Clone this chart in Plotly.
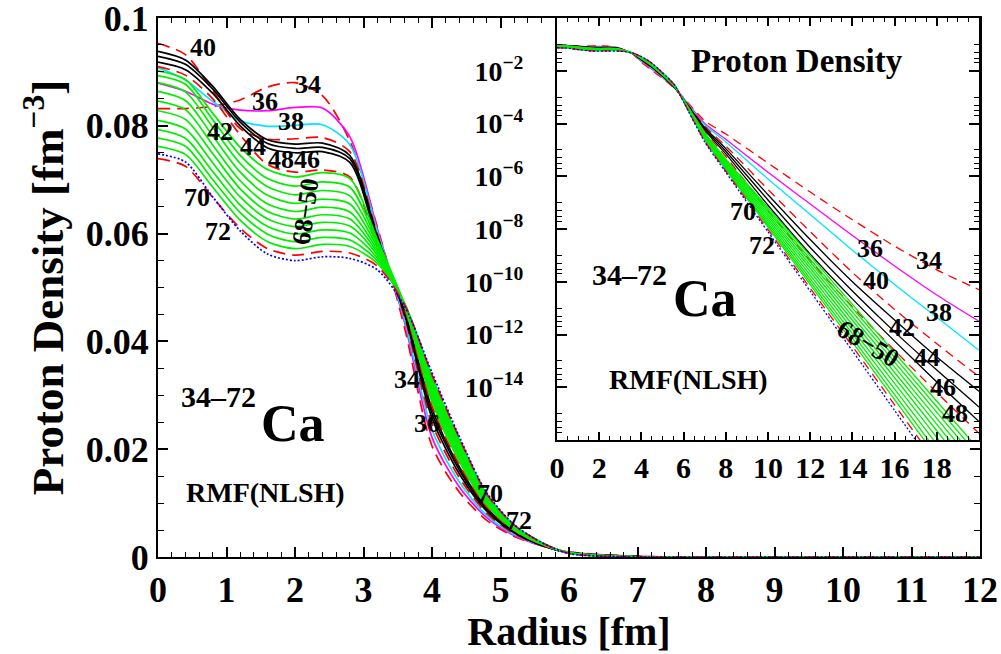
import plotly.graph_objects as go

# ---------------- data ----------------
radius = [0, 0.4, 0.8, 1.2, 1.6, 2.0, 2.4, 2.8, 3.2, 3.6, 4.0, 4.4, 4.8, 5.2, 5.6, 6.0,
          7, 8, 10, 12, 14, 16, 18, 20]

isotopes = [34, 36, 38, 40, 42, 44, 46, 48, 50, 52, 54, 56, 58, 60, 62, 64, 66, 68, 70, 72]

ca34 = [0.0832, 0.0832, 0.0836, 0.0848, 0.0872, 0.0880, 0.0856, 0.0772, 0.0613, 0.0425, 0.0206, 0.0120, 0.0068, 0.0038, 0.0021, 9.5e-4, 1.26e-4, 3.98e-5, 3.16e-6, 2.51e-7, 2.24e-8, 2.24e-9, 2.82e-10, 5.01e-11]
ca36 = [0.0879, 0.0864, 0.0840, 0.0829, 0.0828, 0.0834, 0.0833, 0.0780, 0.0610, 0.0435, 0.0222, 0.0130, 0.0073, 0.0040, 0.0021, 9.0e-4, 1.0e-4, 2.51e-5, 1.41e-6, 8.91e-8, 5.62e-9, 3.98e-10, 3.16e-11, 3.16e-12]
ca38 = [0.0908, 0.0885, 0.0845, 0.0810, 0.0799, 0.0801, 0.0802, 0.0765, 0.0605, 0.0440, 0.0236, 0.0139, 0.0077, 0.0042, 0.0021, 8.7e-4, 8.91e-5, 2.0e-5, 7.94e-7, 3.55e-8, 1.58e-9, 7.94e-11, 4.47e-12, 2.51e-13]
ca40 = [0.0953, 0.0932, 0.0865, 0.0795, 0.0775, 0.0776, 0.0778, 0.0752, 0.0600, 0.0445, 0.0248, 0.0147, 0.0081, 0.0043, 0.0021, 8.4e-4, 7.94e-5, 1.41e-5, 3.16e-7, 7.94e-9, 2.24e-10, 8.91e-12, 4.47e-13, 2.51e-14]
ca42 = [0.0938, 0.0922, 0.0873, 0.0812, 0.0774, 0.0766, 0.0768, 0.0745, 0.0596, 0.0450, 0.0258, 0.0154, 0.0085, 0.0045, 0.0022, 8.2e-4, 7.08e-5, 1.12e-5, 2.0e-7, 3.98e-9, 1.0e-10, 3.55e-12, 1.41e-13, 7.08e-15]
ca44 = [0.0929, 0.0914, 0.0868, 0.0807, 0.0767, 0.0758, 0.0760, 0.0739, 0.0592, 0.0453, 0.0267, 0.0161, 0.0088, 0.0046, 0.0022, 8.0e-4, 6.31e-5, 8.91e-6, 1.26e-7, 2.0e-9, 4.47e-11, 1.26e-12, 4.47e-14, 1.78e-15]
ca46 = [0.0918, 0.0904, 0.0860, 0.0800, 0.0759, 0.0750, 0.0752, 0.0732, 0.0588, 0.0456, 0.0275, 0.0167, 0.0091, 0.0048, 0.0023, 7.9e-4, 5.62e-5, 7.08e-6, 7.94e-8, 1.12e-9, 2.24e-11, 5.62e-13, 1.58e-14, 5.01e-16]
ca48 = [0.0910, 0.0894, 0.0850, 0.0783, 0.0728, 0.0714, 0.0718, 0.0705, 0.0580, 0.0460, 0.0280, 0.0171, 0.0093, 0.0049, 0.0023, 7.8e-4, 5.01e-5, 5.62e-6, 5.01e-8, 6.31e-10, 1.12e-11, 2.51e-13, 6.31e-15, 1.78e-16]
ca50 = [0.0902, 0.0886, 0.0823, 0.0760, 0.0719, 0.0705, 0.0713, 0.0702, 0.0590, 0.0466, 0.0288, 0.0177, 0.0096, 0.0050, 0.0024, 7.8e-4, 4.47e-5, 4.47e-6, 6.46e-8, 9.55e-10, 1.38e-11, 2.04e-13, 2.95e-15, 4.27e-17]
ca52 = [0.0893, 0.0877, 0.0811, 0.0745, 0.0702, 0.0688, 0.0696, 0.0686, 0.0585, 0.0467, 0.0294, 0.0182, 0.0099, 0.0051, 0.0024, 7.7e-4, 4.17e-5, 3.98e-6, 5.37e-8, 7.24e-10, 1.0e-11, 1.35e-13, 1.82e-15, 2.45e-17]
ca54 = [0.0880, 0.0863, 0.0797, 0.0730, 0.0687, 0.0672, 0.0680, 0.0670, 0.0580, 0.0467, 0.0300, 0.0187, 0.0102, 0.0052, 0.0025, 7.6e-4, 3.89e-5, 3.55e-6, 4.47e-8, 5.62e-10, 7.08e-12, 8.91e-14, 1.12e-15, 1.41e-17]
ca56 = [0.0864, 0.0847, 0.0781, 0.0714, 0.0671, 0.0656, 0.0664, 0.0655, 0.0575, 0.0468, 0.0305, 0.0192, 0.0104, 0.0053, 0.0025, 7.5e-4, 3.63e-5, 3.16e-6, 3.63e-8, 4.27e-10, 4.90e-12, 5.75e-14, 6.61e-16, 7.76e-18]
ca58 = [0.0846, 0.0830, 0.0764, 0.0698, 0.0655, 0.0641, 0.0649, 0.0640, 0.0570, 0.0468, 0.0310, 0.0197, 0.0106, 0.0054, 0.0025, 7.4e-4, 3.39e-5, 2.82e-6, 3.02e-8, 3.24e-10, 3.47e-12, 3.63e-14, 3.89e-16, 4.17e-18]
ca60 = [0.0828, 0.0812, 0.0748, 0.0683, 0.0641, 0.0627, 0.0635, 0.0627, 0.0565, 0.0469, 0.0315, 0.0201, 0.0108, 0.0055, 0.0026, 7.3e-4, 3.16e-5, 2.51e-6, 2.45e-8, 2.40e-10, 2.34e-12, 2.29e-14, 2.24e-16, 2.19e-18]
ca62 = [0.0810, 0.0794, 0.0731, 0.0668, 0.0627, 0.0613, 0.0621, 0.0614, 0.0560, 0.0469, 0.0320, 0.0205, 0.0110, 0.0056, 0.0026, 7.2e-4, 2.95e-5, 2.24e-6, 2.0e-8, 1.78e-10, 1.58e-12, 1.41e-14, 1.26e-16, 1.12e-18]
ca64 = [0.0793, 0.0777, 0.0715, 0.0653, 0.0613, 0.0599, 0.0607, 0.0601, 0.0555, 0.0470, 0.0325, 0.0209, 0.0112, 0.0057, 0.0026, 7.1e-4, 2.75e-5, 2.0e-6, 1.62e-8, 1.32e-10, 1.07e-12, 8.51e-15, 6.92e-17, 5.62e-19]
ca66 = [0.0777, 0.0762, 0.0700, 0.0639, 0.0599, 0.0585, 0.0593, 0.0588, 0.0550, 0.0470, 0.0330, 0.0213, 0.0114, 0.0058, 0.0027, 7.0e-4, 2.57e-5, 1.91e-6, 1.38e-8, 1.0e-10, 7.24e-13, 5.25e-15, 3.72e-17, 2.69e-19]
ca68 = [0.0762, 0.0747, 0.0686, 0.0625, 0.0585, 0.0572, 0.0580, 0.0576, 0.0545, 0.0470, 0.0334, 0.0217, 0.0116, 0.0059, 0.0027, 6.9e-4, 2.40e-5, 1.78e-6, 1.17e-8, 7.76e-11, 5.13e-13, 3.39e-15, 2.24e-17, 1.48e-19]
ca70 = [0.0739, 0.0725, 0.0667, 0.0610, 0.0572, 0.0560, 0.0567, 0.0564, 0.0540, 0.0468, 0.0338, 0.0220, 0.0117, 0.0059, 0.0027, 6.7e-4, 2.19e-5, 1.58e-6, 9.55e-9, 5.75e-11, 3.55e-13, 2.14e-15, 1.29e-17, 7.76e-20]
ca72 = [0.0748, 0.0733, 0.0668, 0.0605, 0.0562, 0.0550, 0.0557, 0.0554, 0.0533, 0.0465, 0.0342, 0.0223, 0.0119, 0.0060, 0.0027, 6.5e-4, 2.0e-5, 1.41e-6, 7.76e-9, 4.37e-11, 2.40e-13, 1.32e-15, 7.41e-18, 4.07e-20]

densities = [ca34, ca36, ca38, ca40, ca42, ca44, ca46, ca48, ca50, ca52, ca54, ca56,
             ca58, ca60, ca62, ca64, ca66, ca68, ca70, ca72]

main_xticks = [0, 1, 2, 3, 4, 5, 6, 7, 8, 9, 10, 11, 12]
main_yticks = [0, 0.02, 0.04, 0.06, 0.08, 0.1]
main_yticktext = ["0", "0.02", "0.04", "0.06", "0.08", "0.1"]
inset_xticks = [0, 2, 4, 6, 8, 10, 12, 14, 16, 18]
inset_yticks = [1e-2, 1e-4, 1e-6, 1e-8, 1e-10, 1e-12, 1e-14]
inset_yticktext = ["10<sup>\u22122</sup>", "10<sup>\u22124</sup>", "10<sup>\u22126</sup>",
                   "10<sup>\u22128</sup>", "10<sup>\u221210</sup>", "10<sup>\u221212</sup>",
                   "10<sup>\u221214</sup>"]

# ---------------- styles ----------------
FONT = "Liberation Serif"
RED, MAG, CYAN, BLACK, GREEN, BLUE = "#ff0000", "#ff00ff", "#00e5ff", "#000000", "#00ee00", "#0000ff"

def style(a):
    if a in (34, 40, 48, 70):
        return RED, "12px,7px"
    if a == 36:
        return MAG, "solid"
    if a == 38:
        return CYAN, "solid"
    if a in (42, 44, 46):
        return BLACK, "solid"
    if a == 72:
        return BLUE, "2px,2px"
    return GREEN, "solid"

fig = go.Figure()
for a, d in zip(isotopes, densities):
    c, dash = style(a)
    fig.add_trace(go.Scatter(x=radius, y=d, mode="lines", xaxis="x", yaxis="y",
                             line=dict(color=c, width=1.7, dash=dash, shape="spline", smoothing=0.8),
                             showlegend=False, hoverinfo="skip"))
for a, d in zip(isotopes, densities):
    c, dash = style(a)
    dash2 = "9px,6px" if dash == "12px,7px" else dash
    fig.add_trace(go.Scatter(x=radius, y=d, mode="lines", xaxis="x2", yaxis="y2",
                             line=dict(color=c, width=1.3, dash=dash2, shape="spline", smoothing=0.6),
                             showlegend=False, hoverinfo="skip"))

L, R_, T, B = 158, 21, 18, 97
W, H = 1001, 654
PW, PH = W - L - R_, H - T - B

def px(xp):
    return (xp - L) / PW

def py(yp):
    return (H - B - yp) / PH

axis_common = dict(showline=True, linewidth=2, linecolor="black", mirror="ticks",
                   ticks="inside", tickwidth=1.5, tickcolor="black", showgrid=False,
                   zeroline=False, automargin=False)

fig.update_layout(
    width=W, height=H,
    margin=dict(l=L, r=R_, t=T, b=B, pad=0, autoexpand=False),
    paper_bgcolor="white", plot_bgcolor="white",
    font=dict(family=FONT, color="black", weight="bold"),
    xaxis=dict(**axis_common, range=[0, 12], tickvals=main_xticks, ticklen=10,
               minor=dict(ticks="inside", dtick=0.2, ticklen=5, tickwidth=1, tickcolor="black"),
               tickfont=dict(size=36, family=FONT, weight="bold"),
               title=dict(text="Radius [fm]", font=dict(size=40, family=FONT, weight="bold"), standoff=8),
               domain=[0, 1]),
    yaxis=dict(**axis_common, range=[0, 0.1], tickvals=main_yticks, ticktext=main_yticktext, ticklen=10,
               ticklabeloverflow="allow",
               minor=dict(ticks="inside", dtick=0.005, ticklen=6, tickwidth=1, tickcolor="black"),
               tickfont=dict(size=36, family=FONT, weight="bold"),
               title=dict(text="Proton Density [fm<sup>\u22123</sup>]",
                          font=dict(size=45, family=FONT, weight="bold"), standoff=8),
               domain=[0, 1]),
    xaxis2=dict(**axis_common, anchor="y2", domain=[px(557), px(979)], range=[0, 20],
                tickvals=inset_xticks, ticklen=8,
                minor=dict(ticks="inside", dtick=0.5, ticklen=4, tickwidth=1, tickcolor="black"),
                tickfont=dict(size=30, family=FONT, weight="bold")),
    yaxis2=dict(**axis_common, anchor="x2", domain=[py(440), 1], type="log", range=[-16, 0],
                tickvals=inset_yticks, ticktext=inset_yticktext, ticklen=10,
                ticklabelstandoff=26,
                minor=dict(ticks="inside", ticklen=5, tickwidth=1, tickcolor="black",
                           tickvals=[1e-1, 5e-2, 3e-2, 2e-2, 1e-3, 5e-4, 3e-4, 2e-4,
                                     1e-5, 5e-6, 3e-6, 2e-6, 1e-7, 5e-8, 3e-8, 2e-8,
                                     1e-9, 5e-10, 3e-10, 2e-10, 1e-11, 5e-12, 3e-12, 2e-12,
                                     1e-13, 5e-14, 3e-14, 2e-14, 1e-15, 5e-16, 3e-16, 2e-16]),
                tickfont=dict(size=28, family=FONT, weight="bold")),
)

annotations = []

def label(x, y, text, size=26, angle=0):
    annotations.append(dict(x=px(x), y=py(y), xref="paper", yref="paper", text=text,
                            showarrow=False, xanchor="center", yanchor="middle",
                            textangle=angle,
                            font=dict(size=size, family=FONT, color="black", weight="bold")))

# main plot labels
for t, x, y in [("40", 203, 47), ("34", 308, 84), ("36", 265, 101), ("38", 291, 121),
                ("42", 220, 131), ("44", 253, 147), ("48", 281, 159), ("46", 307, 159),
                ("70", 197, 197), ("72", 218, 231),
                ("34", 407, 380), ("36", 427, 423), ("70", 490, 493), ("72", 519, 520)]:
    label(x, y, t)
label(306, 212, "68\u221250", 26, -82)
label(218, 396, "34\u201372", 30)
label(293, 423, "Ca", 52)
label(265, 492, "RMF(NLSH)", 28)

# inset labels
label(797, 61, "Proton Density", 33)
for t, x, y in [("70", 743, 212), ("72", 762, 245), ("36", 870, 248), ("34", 929, 260),
                ("40", 876, 280), ("38", 939, 312), ("42", 902, 327), ("44", 927, 357),
                ("46", 943, 387), ("48", 955, 413)]:
    label(x, y, t)
label(868, 343, "68\u221250", 26, 31)
label(629, 274, "34\u201372", 30)
label(705, 298, "Ca", 52)
label(688, 380, "RMF(NLSH)", 28)

fig.update_layout(annotations=annotations)

fig.write_html("out.html")
